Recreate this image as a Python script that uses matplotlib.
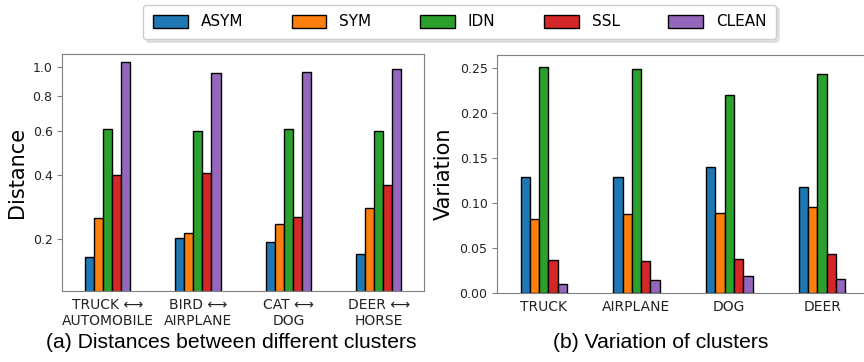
import numpy as np
import matplotlib
matplotlib.use("Agg")
import matplotlib.pyplot as plt

methods = ["ASYM", "SYM", "IDN", "SSL", "CLEAN"]
colors = ["#1f77b4", "#ff7f0e", "#2ca02c", "#d62728", "#9467bd"]

pairs = ["TRUCK \u27f7\nAUTOMOBILE", "BIRD \u27f7\nAIRPLANE", "CAT \u27f7\nDOG", "DEER \u27f7\nHORSE"]
dist_asym = [0.159, 0.202, 0.193, 0.165]
dist_sym = [0.254, 0.214, 0.239, 0.286]
dist_idn = [0.61, 0.60, 0.61, 0.60]
dist_ssl = [0.40, 0.408, 0.257, 0.363]
dist_clean = [1.037, 0.959, 0.967, 0.988]

classes = ["TRUCK", "AIRPLANE", "DOG", "DEER"]
var_asym = [0.129, 0.129, 0.140, 0.117]
var_sym = [0.082, 0.087, 0.089, 0.0956]
var_idn = [0.251, 0.248, 0.220, 0.243]
var_ssl = [0.036, 0.035, 0.038, 0.043]
var_clean = [0.010, 0.0144, 0.019, 0.0156]

dist = [dist_asym, dist_sym, dist_idn, dist_ssl, dist_clean]
var = [var_asym, var_sym, var_idn, var_ssl, var_clean]

fig = plt.figure(figsize=(8.64, 3.62), dpi=100)
ax1 = fig.add_axes([0.0721, 0.1970, 0.4186, 0.653])
ax2 = fig.add_axes([0.5756, 0.1914, 0.4296, 0.6566])

width = 0.1
spine_col = "#7f7f7f"


def bars(ax, data, labels):
    x = np.arange(len(labels))
    handles = []
    for j, vals in enumerate(data):
        h = ax.bar(x + (j - 2) * width, vals, width, color=colors[j],
                   edgecolor="black", linewidth=1.0, label=methods[j])
        handles.append(h)
    ax.set_xticks(x)
    ax.set_xticklabels(labels, fontsize=10, color="#222222")
    ax.set_xlim(-0.5, len(labels) - 0.5)
    ax.tick_params(axis="y", labelsize=9, labelcolor="#222222", color=spine_col)
    ax.tick_params(axis="x", length=0, pad=5)
    for s in ax.spines.values():
        s.set_color(spine_col)
    return handles


handles = bars(ax1, dist, pairs)
p = 0.3
ax1.set_yscale("function", functions=(lambda v: np.sign(v) * np.abs(v) ** p,
                                      lambda v: np.sign(v) * np.abs(v) ** (1 / p)))
ax1.set_ylim(0.1, 1.1)
ax1.set_yticks([0.2, 0.4, 0.6, 0.8, 1.0])
ax1.set_yticklabels(["0.2", "0.4", "0.6", "0.8", "1.0"])
ax1.yaxis.set_minor_locator(matplotlib.ticker.NullLocator())
ax1.set_ylabel("Distance", fontsize=15)

bars(ax2, var, classes)
ax2.set_ylim(0, 0.264)
ax2.set_yticks([0, 0.05, 0.10, 0.15, 0.20, 0.25])
ax2.set_yticklabels(["0.00", "0.05", "0.10", "0.15", "0.20", "0.25"])
ax2.set_ylabel("Variation", fontsize=15)

fig.legend(handles, methods, loc="center", bbox_to_anchor=(459.7 / 864, 1 - 22 / 362),
           ncol=5, fontsize=11, frameon=True, fancybox=True,
           shadow={"color": "#c8c8c8", "ox": 2, "oy": -2},
           handlelength=2.25, handleheight=0.95, handletextpad=0.85, columnspacing=3.2,
           borderpad=0.65, edgecolor="#cccccc")

fig.text(230.8 / 864, 1 - 342 / 362, "(a) Distances between different clusters",
         ha="center", va="center", fontsize=15.2, family="Liberation Sans")
fig.text(660.8 / 864, 1 - 342 / 362, "(b) Variation of clusters",
         ha="center", va="center", fontsize=15.2, family="Liberation Sans")

fig.savefig("out.png", dpi=100)
